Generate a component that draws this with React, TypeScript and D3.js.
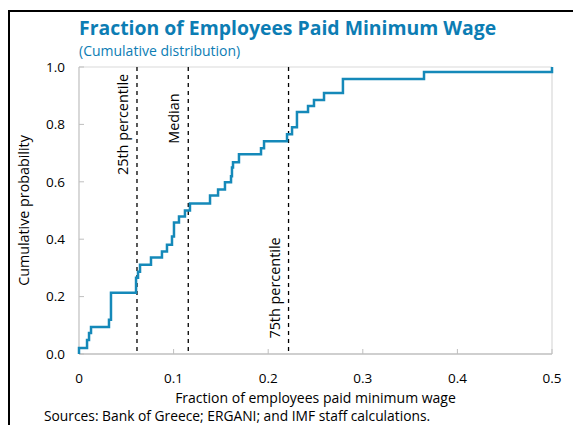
import React from "react";
import * as d3 from "d3";

const stepX = [0, 0, 0.0085, 0.0106, 0.0127, 0.0317, 0.0338, 0.0603, 0.0624, 0.0645, 0.0761, 0.0877, 0.093, 0.0983, 0.1004, 0.1057, 0.112, 0.1173, 0.1385, 0.147, 0.1543, 0.1607, 0.1617, 0.1628, 0.1691, 0.1924, 0.1956, 0.2199, 0.2252, 0.2304, 0.2421, 0.2484, 0.259, 0.279, 0.3647, 0.5];
const stepP = [0, 0.021, 0.049, 0.073, 0.094, 0.119, 0.213, 0.266, 0.287, 0.311, 0.336, 0.357, 0.381, 0.409, 0.458, 0.479, 0.5, 0.524, 0.552, 0.573, 0.598, 0.619, 0.65, 0.668, 0.696, 0.717, 0.741, 0.766, 0.79, 0.843, 0.864, 0.885, 0.909, 0.958, 0.983, 1.0];

const percentileNames = ["25th percentile", "Median", "75th percentile"];
const percentileValues = [0.0613, 0.1155, 0.2215];
const percentileLabelY = [0.8, 0.82, 0.23];

const xTicks = [0, 0.1, 0.2, 0.3, 0.4, 0.5];
const xTickLabels = ["0", "0.1", "0.2", "0.3", "0.4", "0.5"];
const yTicks = [0, 0.2, 0.4, 0.6, 0.8, 1.0];
const yTickLabels = ["0.0", "0.2", "0.4", "0.6", "0.8", "1.0"];

const FONT = "'Open Sans', 'Noto Sans', sans-serif";

export default function App() {
  const W = 573, H = 425;
  const left = 79, right = 552, top = 67, bottom = 354;
  const x = d3.scaleLinear().domain([0, 0.5]).range([left, right]);
  const y = d3.scaleLinear().domain([0, 1]).range([bottom, top]);
  const pts: [number, number][] = stepX.map((v, i) => [v, stepP[i]]);
  const line = d3.line<[number, number]>().x(d => x(d[0])).y(d => y(d[1])).curve(d3.curveStepAfter);
  const blue = "#1589B9";
  const titleBlue = "#0C7DB4";
  return (
    <svg width={W} height={H} style={{ position: "absolute", left: 0, top: 0, display: "block" }} fontFamily={FONT}>
      <rect width={W} height={H} fill="#fff" />
      <path d={`M9,${H} V11 H${W}`} fill="none" stroke="#000" strokeWidth={2} />
      <text x={79} y={35} fill={titleBlue} fontSize={19.4} fontWeight="bold">Fraction of Employees Paid Minimum Wage</text>
      <text x={79} y={55.5} fill={titleBlue} fontSize={14}>(Cumulative distribution)</text>
      <line x1={left} x2={right} y1={top} y2={top} stroke="#d9d9d9" strokeWidth={1.2} />
      <line x1={right} x2={right} y1={top} y2={bottom} stroke="#d9d9d9" strokeWidth={1.2} />
      <line x1={left} x2={left} y1={top} y2={bottom} stroke="#bfbfbf" strokeWidth={1.2} />
      <line x1={left} x2={right} y1={bottom} y2={bottom} stroke="#bfbfbf" strokeWidth={1.5} />
      {yTicks.map((t, i) => (
        <g key={"y" + i}>
          <line x1={left} x2={left + 5} y1={y(t)} y2={y(t)} stroke="#bfbfbf" strokeWidth={1} />
          <text x={65} y={y(t)} dy="0.35em" textAnchor="end" fontSize={13.5} fill="#000">{yTickLabels[i]}</text>
        </g>
      ))}
      {xTicks.map((t, i) => (
        <g key={"x" + i}>
          <line x1={x(t)} x2={x(t)} y1={bottom} y2={bottom - 5} stroke="#bfbfbf" strokeWidth={1} />
          <text x={x(t)} y={383} textAnchor="middle" fontSize={13.5} fill="#000">{xTickLabels[i]}</text>
        </g>
      ))}
      {percentileValues.map((v, i) => (
        <g key={"p" + i}>
          <line x1={x(v)} x2={x(v)} y1={top} y2={bottom} stroke="#000" strokeWidth={1.3} strokeDasharray="4,4" />
          <text transform={`translate(${x(v) - 9},${y(percentileLabelY[i])}) rotate(-90)`} textAnchor="middle" fontSize={14.4} fill="#000">{percentileNames[i]}</text>
        </g>
      ))}
      <path d={line(pts) || ""} fill="none" stroke={blue} strokeWidth={2.5} />
      <text transform={`translate(29,${(top + bottom) / 2}) rotate(-90)`} textAnchor="middle" fontSize={14.3} fill="#000">Cumulative probability</text>
      <text x={(left + right) / 2} y={403} textAnchor="middle" fontSize={14} fill="#000">Fraction of employees paid minimum wage</text>
      <text x={44} y={420.5} fontSize={13.8} fill="#000">Sources: Bank of Greece; ERGANI; and IMF staff calculations.</text>
    </svg>
  );
}
